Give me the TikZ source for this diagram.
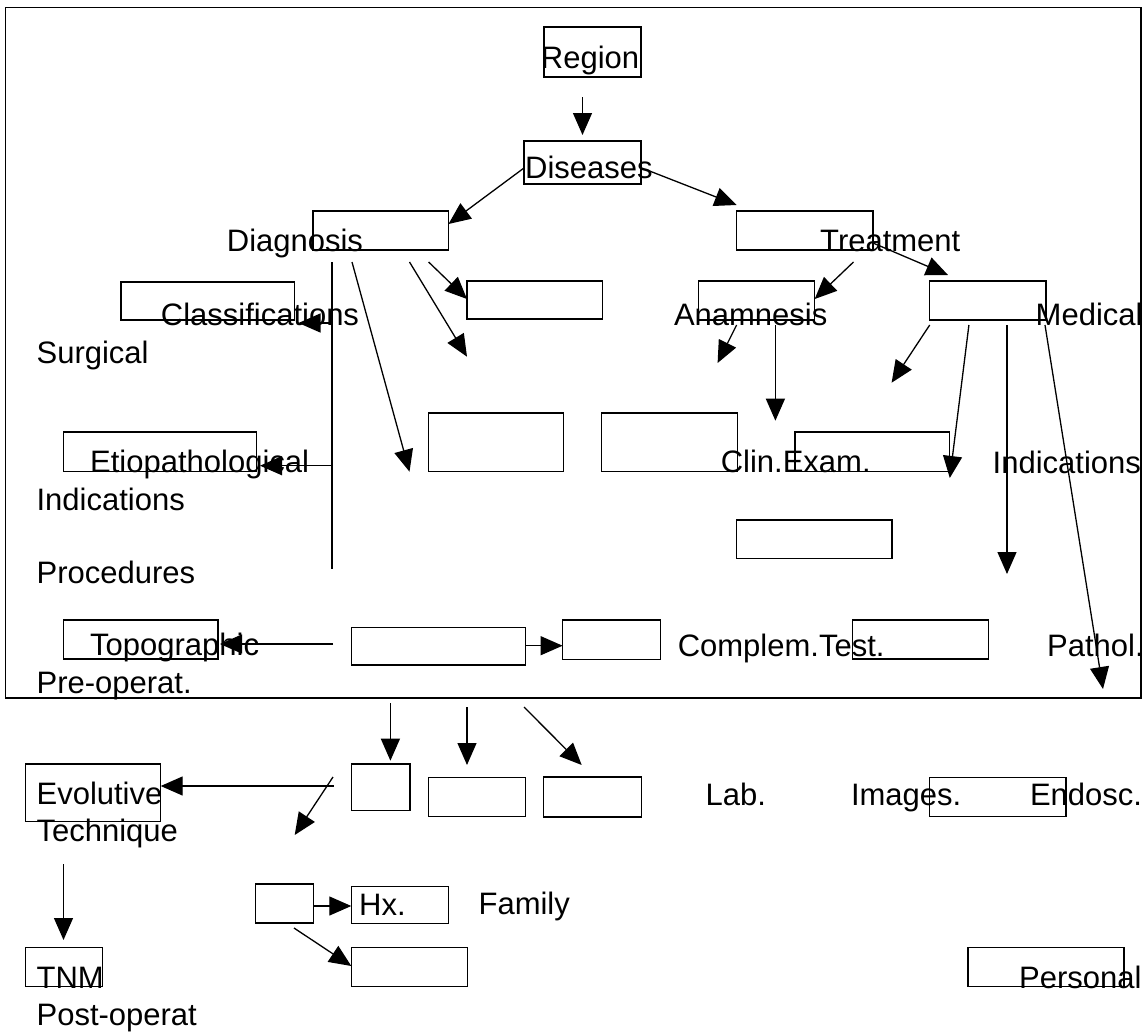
\documentclass[tikz,border=0pt]{standalone}
\usepackage{fontspec}
\setmainfont{Liberation Sans}
\usetikzlibrary{arrows.meta}
\tikzset{
  box/.style={draw, line width=1.3pt, inner sep=0pt, outer sep=0pt, anchor=north west},
  lbl/.style={inner sep=0pt, anchor=base west, font=\fontsize{31}{37}\selectfont},
  arr/.style={line width=1.3pt, -{Triangle[length=22pt,width=19pt]}},
  ln/.style={line width=1.3pt},
}
\newcommand\bx[5]{\node[box,minimum width=#4pt,minimum height=#5pt] (#1) at (#2,#3) {};}
\newcommand\tx[4]{\node[lbl] (#1) at (#2,#3) {#4};}
\begin{document}
\begin{tikzpicture}[x=1pt,y=-1pt]
\useasboundingbox (0,0) rectangle (1144,1034);
% frame
\bx{frame}{5.7}{7.3}{1135.3}{690.7}
% boxes
\bx{b1}{544}{27}{97}{50}
\bx{b2}{524}{141}{117}{43}
\bx{b3}{313}{211}{135.5}{39}
\bx{b4}{736.6}{211}{136.4}{39}
\bx{b5}{121}{282}{173.7}{38}
\bx{b6}{467}{281}{135.5}{38}
\bx{b7}{698.5}{281}{116.2}{39}
\bx{b8}{929.7}{281}{116.3}{39}
\bx{b9}{428.6}{413}{135.1}{58.7}
\bx{b10}{601.4}{413}{136}{58.7}
\bx{b11}{794.9}{432}{154.9}{39.7}
\bx{b12}{63.5}{432}{192.9}{39.7}
\bx{b13}{736.6}{520}{155.4}{38.7}
\bx{b14}{63.5}{620}{154.5}{39}
\bx{b15}{351.3}{627.7}{174.2}{37.3}
\bx{b16}{562.6}{620}{97.8}{39.3}
\bx{b17}{852.7}{620}{136}{39}
\bx{b18}{351.3}{764}{58.7}{46.7}
\bx{b19}{428.6}{777.3}{96.9}{39.4}
\bx{b20}{543.4}{777}{98}{40}
\bx{b21}{929.7}{777.3}{136.3}{39.4}
\bx{b22}{25.3}{764}{135.4}{57.7}
\bx{b23}{25.3}{947.3}{77.3}{39.4}
\bx{b24}{255.6}{884}{58.2}{39}
\bx{b25}{351.3}{886.7}{97.2}{36.6}
\bx{b26}{351.3}{947.3}{116.4}{39.4}
\bx{b27}{968}{947.7}{156}{39}
% texts
\tx{tregion}{540.7}{68.3}{Region}
\tx{tdiseases}{525}{178.3}{Diseases}
\tx{tdiag}{226.7}{251.2}{Diagnosis}
\tx{ttreat}{820}{251.2}{Treatment}
\tx{tclass}{160.7}{325}{Classifications}
\tx{tanam}{673.8}{325}{Anamnesis}
\tx{tmed}{1035.5}{325}{Medical}
\tx{tsurg}{36.4}{363}{Surgical}
\tx{tetio}{90}{472}{Etiopathological}
\tx{tclin}{720.6}{472.7}{Clin.Exam.}
\tx{tindr}{992.5}{473}{Indications}
\tx{tindl}{36.4}{510}{Indications}
\tx{tproc}{36.4}{583}{Procedures}
\tx{ttopo}{90}{655}{Topographic}
\tx{tcomp}{677.6}{656}{Complem.Test.}
\tx{tpath}{1047}{656}{Pathol.}
\tx{tpre}{36.4}{693}{Pre-operat.}
\tx{tevol}{36.4}{804}{Evolutive}
\tx{tlab}{705.4}{805}{Lab.}
\tx{timg}{850.8}{805}{Images.}
\tx{tendo}{1029.8}{805}{Endosc.}
\tx{ttech}{36.4}{841.7}{Technique}
\tx{thx}{359}{915}{Hx.}
\tx{tfam}{478.4}{914}{Family}
\tx{ttnm}{36.4}{988}{TNM}
\tx{tpers}{1019}{988}{Personal}
\tx{tpost}{36.4}{1025}{Post-operat}
% connector end points
\coordinate (a1s) at (582.5,97);   \coordinate (a1e) at (582.5,135);
\coordinate (a2s) at (524,168);    \coordinate (a2e) at (448.5,224);
\coordinate (a3s) at (647,170);    \coordinate (a3e) at (736.6,205);
\coordinate (a4s) at (873,243);    \coordinate (a4e) at (948,275);
\coordinate (a5s) at (853.5,262);  \coordinate (a5e) at (814.7,299);
\coordinate (a6s) at (428.6,262);  \coordinate (a6e) at (467,299);
\coordinate (a7s) at (409.5,262);  \coordinate (a7e) at (467,356.7);
\coordinate (a8s) at (352,262);    \coordinate (a8e) at (409.5,471.7);
\coordinate (l1s) at (332,262);    \coordinate (l1e) at (332,569);
\coordinate (a9s) at (332,323);    \coordinate (a9e) at (298.5,323);
\coordinate (a10s) at (332,465.7); \coordinate (a10e) at (260,465.7);
\coordinate (a11s) at (333,644);   \coordinate (a11e) at (220,644);
\coordinate (a12s) at (525.5,645.7);
\coordinate (a13s) at (736.6,325); \coordinate (a13e) at (717.6,363);
\coordinate (a14s) at (775.4,325); \coordinate (a14e) at (775.4,420.7);
\coordinate (a15s) at (929.7,325); \coordinate (a15e) at (891.6,382.7);
\coordinate (a16s) at (968.9,325); \coordinate (a16e) at (949.8,478);
\coordinate (a17s) at (1007,325);  \coordinate (a17e) at (1007,574);
\coordinate (a18s) at (1045,325);  \coordinate (a18e) at (1103,689);
\coordinate (a19s) at (390.4,703); \coordinate (a19e) at (390.4,760.7);
\coordinate (a20s) at (467,707);   \coordinate (a20e) at (467,765);
\coordinate (a21s) at (524,707);   \coordinate (a21e) at (581.7,765);
\coordinate (a22s) at (333.7,786); \coordinate (a22e) at (160.7,786);
\coordinate (a23s) at (333,777);   \coordinate (a23e) at (294.7,835);
\coordinate (a24s) at (63.5,864);  \coordinate (a24e) at (63.5,940);
\coordinate (a25s) at (313.8,906);
\coordinate (a26s) at (294,928);   \coordinate (a26e) at (351.3,966);
% connectors
\draw[arr] (a1s) -- (a1e);
\draw[arr] (a2s) -- (a2e);
\draw[arr] (a3s) -- (a3e);
\draw[arr] (a4s) -- (a4e);
\draw[arr] (a5s) -- (a5e);
\draw[arr] (a6s) -- (a6e);
\draw[arr] (a7s) -- (a7e);
\draw[arr] (a8s) -- (a8e);
\draw[ln] (l1s) -- (l1e);
\draw[arr] (a9s) -- (a9e);
\draw[arr] (a10s) -- (a10e);
\draw[arr] (a11s) -- (a11e);
\draw[arr] (a12s) -- (b16.west |- a12s);
\draw[arr] (a13s) -- (a13e);
\draw[arr] (a14s) -- (a14e);
\draw[arr] (a15s) -- (a15e);
\draw[arr] (a16s) -- (a16e);
\draw[arr] (a17s) -- (a17e);
\draw[arr] (a18s) -- (a18e);
\draw[arr] (a19s) -- (a19e);
\draw[arr] (a20s) -- (a20e);
\draw[arr] (a21s) -- (a21e);
\draw[arr] (a22s) -- (a22e);
\draw[arr] (a23s) -- (a23e);
\draw[arr] (a24s) -- (a24e);
\draw[arr] (a25s) -- (b25.west |- a25s);
\draw[arr] (a26s) -- (a26e);
\end{tikzpicture}
\end{document}
